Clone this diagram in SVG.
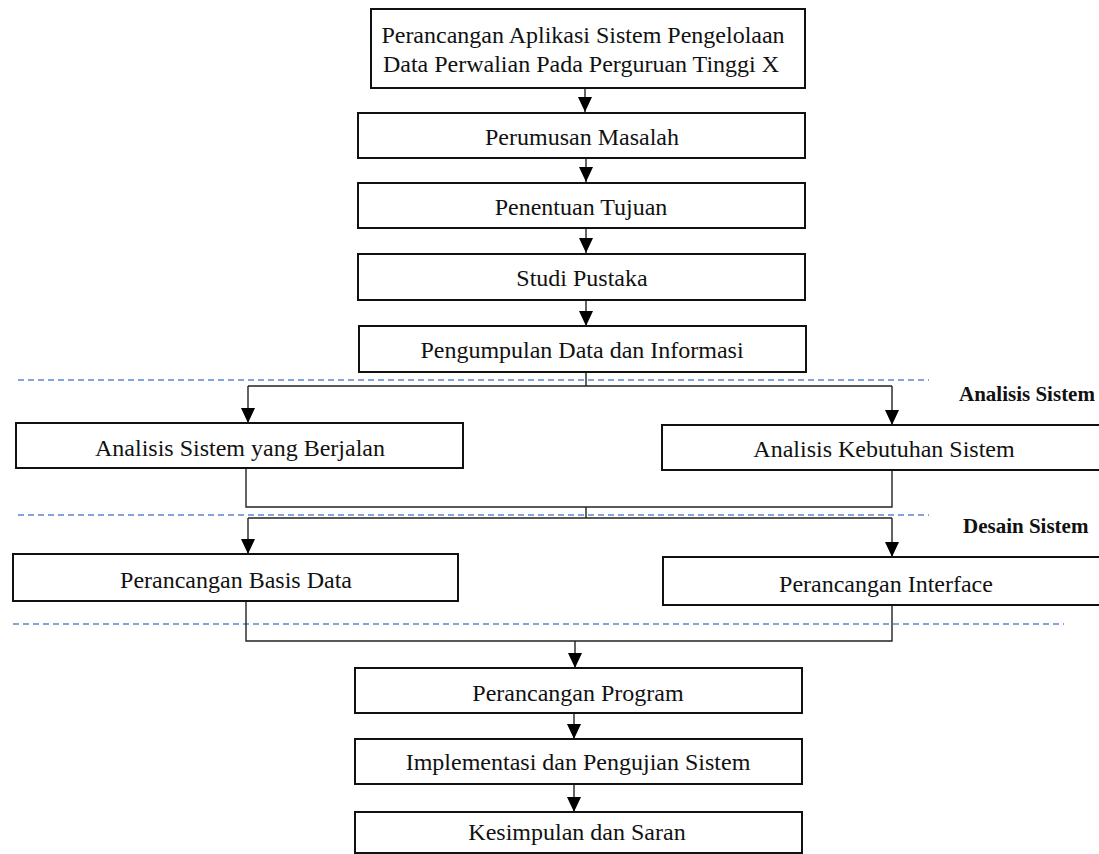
<svg xmlns="http://www.w3.org/2000/svg" width="1099" height="854" viewBox="0 0 1099 854">
  <style>
    .box { fill: #ffffff; stroke: #111111; stroke-width: 2; }
    .lbl { font-family: "Liberation Serif", "Times New Roman", serif; font-size: 24px; fill: #111111; text-anchor: middle; }
    .phase { font-family: "Liberation Serif", "Times New Roman", serif; font-size: 21px; font-weight: bold; fill: #111111; }
    .wire { fill: none; stroke: #222222; stroke-width: 1.4; }
    .sep { fill: none; stroke: #5b86d2; stroke-width: 1.4; stroke-dasharray: 6 4; }
  </style>
  <defs>
    <marker id="head" viewBox="0 0 15 14" refX="15" refY="7" markerWidth="15" markerHeight="14" markerUnits="userSpaceOnUse" orient="auto">
      <path d="M0,0 L15,7 L0,14 Z" fill="#000000"/>
    </marker>
  </defs>

  <rect width="1099" height="854" fill="#ffffff"/>

  <!-- phase separators -->
  <g id="separators">
    <line class="sep" x1="18" y1="380" x2="929" y2="380"/>
    <line class="sep" x1="18" y1="515" x2="929" y2="515"/>
    <line class="sep" x1="13" y1="624" x2="1064" y2="624"/>
  </g>

  <!-- phase labels -->
  <g id="phase-labels">
    <text class="phase" x="959" y="401">Analisis Sistem</text>
    <text class="phase" x="963" y="533">Desain Sistem</text>
  </g>

  <!-- connectors -->
  <g id="connectors">
    <path class="wire" d="M585,88 V112" marker-end="url(#head)"/>
    <path class="wire" d="M586,158 V182" marker-end="url(#head)"/>
    <path class="wire" d="M586,228 V253" marker-end="url(#head)"/>
    <path class="wire" d="M586,300 V326" marker-end="url(#head)"/>

    <path class="wire" d="M586,372 V386 M248,386 H892"/>
    <path class="wire" d="M248,386 V423" marker-end="url(#head)"/>
    <path class="wire" d="M892,386 V425" marker-end="url(#head)"/>

    <path class="wire" d="M246,468 V507 H892 V470 M586,507 V518"/>
    <path class="wire" d="M248,518 H892"/>
    <path class="wire" d="M248,518 V554" marker-end="url(#head)"/>
    <path class="wire" d="M892,518 V557" marker-end="url(#head)"/>

    <path class="wire" d="M246,601 V641 H892 V605"/>
    <path class="wire" d="M575,641 V668" marker-end="url(#head)"/>
    <path class="wire" d="M574,713 V739" marker-end="url(#head)"/>
    <path class="wire" d="M574,784 V812" marker-end="url(#head)"/>
  </g>

  <!-- process steps -->
  <g id="judul">
    <rect class="box" x="371" y="9" width="434" height="79"/>
    <text class="lbl" x="583" y="43">Perancangan Aplikasi Sistem Pengelolaan</text>
    <text class="lbl" x="581" y="72">Data Perwalian Pada Perguruan Tinggi X</text>
  </g>
  <g id="perumusan-masalah">
    <rect class="box" x="358" y="113" width="447" height="45"/>
    <text class="lbl" x="582" y="145">Perumusan Masalah</text>
  </g>
  <g id="penentuan-tujuan">
    <rect class="box" x="358" y="183" width="447" height="45"/>
    <text class="lbl" x="581" y="215">Penentuan Tujuan</text>
  </g>
  <g id="studi-pustaka">
    <rect class="box" x="358" y="254" width="447" height="46"/>
    <text class="lbl" x="582" y="286">Studi Pustaka</text>
  </g>
  <g id="pengumpulan-data">
    <rect class="box" x="359" y="326" width="447" height="46"/>
    <text class="lbl" x="582" y="358">Pengumpulan Data dan Informasi</text>
  </g>
  <g id="analisis-berjalan">
    <rect class="box" x="16" y="423" width="447" height="45"/>
    <text class="lbl" x="240" y="456">Analisis Sistem yang Berjalan</text>
  </g>
  <g id="analisis-kebutuhan">
    <rect class="box" x="662" y="425" width="450" height="45"/>
    <text class="lbl" x="884" y="457">Analisis Kebutuhan Sistem</text>
  </g>
  <g id="basis-data">
    <rect class="box" x="13" y="554" width="445" height="47"/>
    <text class="lbl" x="236" y="588">Perancangan Basis Data</text>
  </g>
  <g id="interface">
    <rect class="box" x="663" y="557" width="450" height="48"/>
    <text class="lbl" x="886" y="592">Perancangan Interface</text>
  </g>
  <g id="program">
    <rect class="box" x="355" y="668" width="447" height="45"/>
    <text class="lbl" x="578" y="701">Perancangan Program</text>
  </g>
  <g id="implementasi">
    <rect class="box" x="355" y="739" width="447" height="45"/>
    <text class="lbl" x="578" y="770">Implementasi dan Pengujian Sistem</text>
  </g>
  <g id="kesimpulan">
    <rect class="box" x="355" y="812" width="447" height="41"/>
    <text class="lbl" x="577" y="840">Kesimpulan dan Saran</text>
  </g>
</svg>
